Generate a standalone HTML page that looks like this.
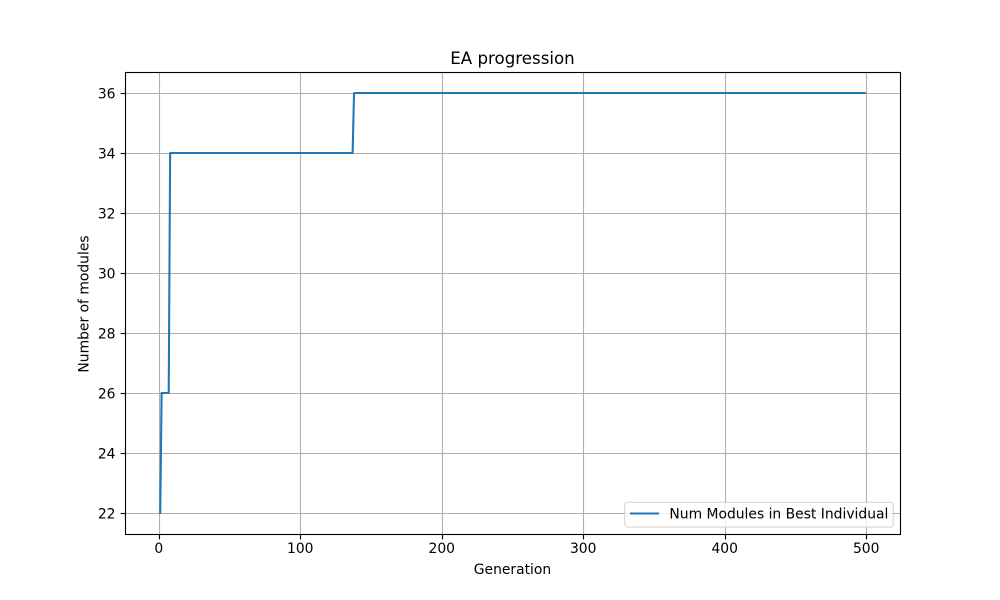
<!DOCTYPE html>
<html>
<head>
<meta charset="utf-8">
<title>EA progression</title>
<style>
html,body{margin:0;padding:0;background:#fff;width:1000px;height:600px;overflow:hidden}
svg{display:block}
text{font-family:"DejaVu Sans",sans-serif;fill:#000}
</style>
</head>
<body>
<svg id="chart" xmlns="http://www.w3.org/2000/svg" width="1000" height="600" viewBox="0 0 1000 600">
<rect x="0" y="0" width="1000" height="600" fill="#fff"/>
<g id="grid"></g>
<g id="series"></g>
<g id="frame"></g>
<g id="ticks"></g>
<text x="512.5" y="64" font-size="16.67" text-anchor="middle">EA progression</text>
<text x="512.5" y="574" font-size="13.89" text-anchor="middle">Generation</text>
<text transform="translate(88.5 304) rotate(-90)" font-size="13.89" text-anchor="middle">Number of modules</text>
<g>
<rect x="624.8" y="502.3" width="268.4" height="24.8" rx="2.8" ry="2.8" fill="#fff" fill-opacity="0.8" stroke="#ccc" stroke-opacity="0.8" stroke-width="1.11"/>
<line x1="630" y1="513.5" x2="659" y2="513.5" stroke="#1f77b4" stroke-width="2.08"/>
<text x="669.4" y="518.4" font-size="13.89">Num Modules in Best Individual</text>
</g>
</svg>
<script>
const generations = [1, 2, 7, 8, 137, 138, 499];
const moduleCounts = [22, 26, 26, 34, 34, 36, 36];
const xTickValues = [0, 100, 200, 300, 400, 500];
const yTickValues = [22, 24, 26, 28, 30, 32, 34, 36];

const NS = 'http://www.w3.org/2000/svg';
const left = 125, right = 900, top_ = 72, bottom = 534;

function extent(values) {
  const lo = Math.min.apply(null, values);
  const hi = Math.max.apply(null, values);
  const pad = (hi - lo) * 0.05;
  return [lo - pad, hi + pad];
}
const xDomain = extent(generations);
const yDomain = extent(moduleCounts);
function xScale(v) {
  return left + (v - xDomain[0]) / (xDomain[1] - xDomain[0]) * (right - left);
}
function yScale(v) {
  return bottom - (v - yDomain[0]) / (yDomain[1] - yDomain[0]) * (bottom - top_);
}
function snap(p) {
  return Math.floor(p + 0.5) + 0.5;
}
function make(tag, attrs, parent) {
  const el = document.createElementNS(NS, tag);
  Object.keys(attrs).forEach(function (k) { el.setAttribute(k, attrs[k]); });
  parent.appendChild(el);
  return el;
}

const gridG = document.getElementById('grid');
const ticksG = document.getElementById('ticks');
const seriesG = document.getElementById('series');
const frameG = document.getElementById('frame');

xTickValues.forEach(function (v) {
  const x = snap(xScale(v));
  const g = make('line', {x1: x, x2: x, y1: top_, y2: bottom, stroke: '#b0b0b0', 'stroke-width': 1.11}, gridG);
  
  
  const t = make('line', {x1: x, x2: x, y1: bottom + 0.5, y2: bottom + 5.4, stroke: '#000', 'stroke-width': 1.11}, ticksG);
  
  
  const l = make('text', {x: xScale(v), y: 553, 'font-size': 13.89, 'text-anchor': 'middle'}, ticksG);
  
  
  l.textContent = String(v);
});

yTickValues.forEach(function (v) {
  const y = snap(yScale(v));
  const g = make('line', {x1: left, x2: right, y1: y, y2: y, stroke: '#b0b0b0', 'stroke-width': 1.11}, gridG);
  
  
  const t = make('line', {x1: left - 4.4, x2: left + 0.5, y1: y, y2: y, stroke: '#000', 'stroke-width': 1.11}, ticksG);
  
  
  const l = make('text', {x: 115.5, y: yScale(v) + 5.3, 'font-size': 13.89, 'text-anchor': 'end'}, ticksG);
  
  
  l.textContent = String(v);
});

const points = generations.map(function (g, i) {
  return xScale(g).toFixed(2) + ',' + yScale(moduleCounts[i]).toFixed(2);
}).join(' ');
const line = make('polyline', {points: points, fill: 'none', stroke: '#1f77b4', 'stroke-width': 2.08, 'stroke-linejoin': 'round', 'stroke-linecap': 'square'}, seriesG);



const frame = make('rect', {x: left + 0.5, y: top_ + 0.5, width: right - left, height: bottom - top_, fill: 'none', stroke: '#000', 'stroke-width': 1.11}, frameG);


</script>
</body>
</html>
